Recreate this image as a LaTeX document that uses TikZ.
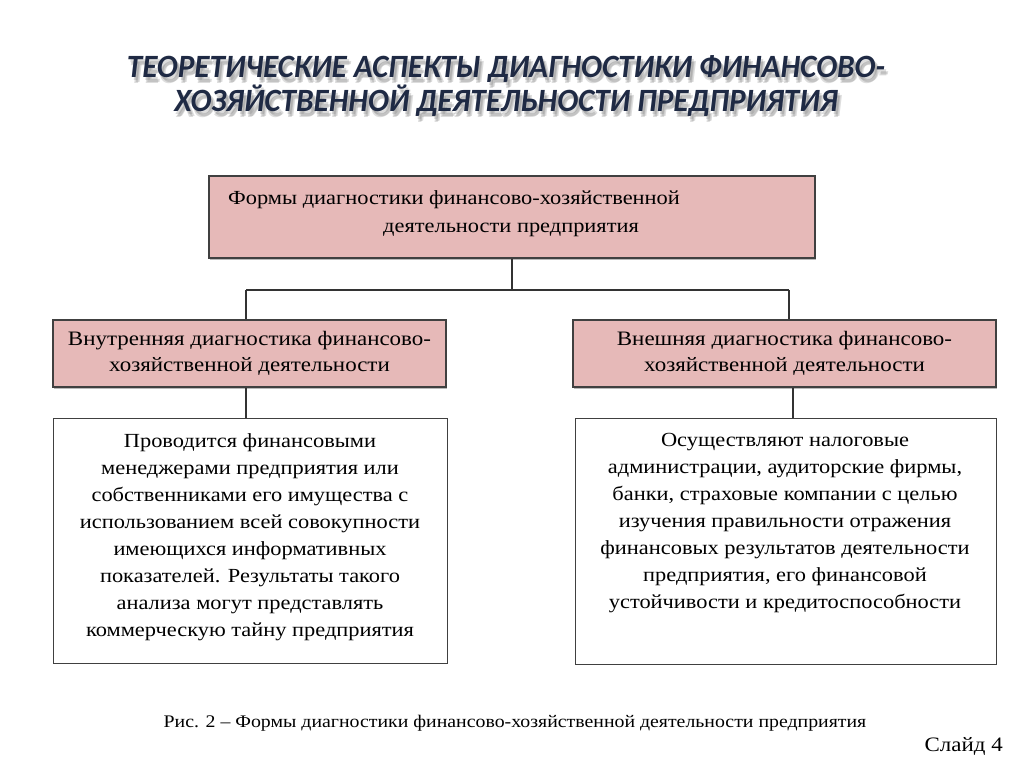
\documentclass[tikz,border=0pt]{standalone}
\usepackage{fontspec}
\usetikzlibrary{shadows}
\setmainfont[FakeStretch=1.12]{Liberation Serif}
\newfontfamily\titlefont[FakeStretch=0.96]{Carlito}
\definecolor{pinkbox}{HTML}{E6B9B8}
\definecolor{titleblue}{HTML}{1F2A44}
\definecolor{edge}{HTML}{404040}
\tikzset{
  pinkrect/.style={draw=edge, line width=1.2pt, fill=pinkbox, rectangle, inner sep=0pt,
    drop shadow={shadow xshift=0.5pt, shadow yshift=-1.5pt, fill=black!45, opacity=0.6}},
  whiterect/.style={draw=edge, line width=1pt, fill=white, rectangle, inner sep=0pt},
  conn/.style={draw=black!80, line width=1.1pt},
  boxtext/.style={font=\fontsize{20}{27}\selectfont, align=center, inner sep=0pt},
  titletext/.style={font=\titlefont\bfseries\itshape\fontsize{32.5}{34}\selectfont, align=center, inner sep=0pt}
}
\begin{document}
\begin{tikzpicture}[x=1pt,y=-1pt]
\useasboundingbox (0,0) rectangle (1024,768);
% title with soft shadow
\foreach \dx/\dy [count=\i] in {2/3,4/5.5,2.5/6.5}{
  \node[titletext, text=black!60, opacity=0.22] (titleshadow\i) at (506+\dx,86+\dy) {ТЕОРЕТИЧЕСКИЕ АСПЕКТЫ ДИАГНОСТИКИ ФИНАНСОВО-\\ХОЗЯЙСТВЕННОЙ ДЕЯТЕЛЬНОСТИ ПРЕДПРИЯТИЯ};
}
\node[titletext, text=titleblue] (title) at (506,86) {ТЕОРЕТИЧЕСКИЕ АСПЕКТЫ ДИАГНОСТИКИ ФИНАНСОВО-\\ХОЗЯЙСТВЕННОЙ ДЕЯТЕЛЬНОСТИ ПРЕДПРИЯТИЯ};
% top box
\node[pinkrect, minimum width=606pt, minimum height=82pt] (top) at (512,217) {};
\node[boxtext, anchor=base west] (topl1) at (228,204) {Формы диагностики финансово-хозяйственной};
\node[boxtext, anchor=base west] (topl2) at (383,232) {деятельности предприятия};
% second level
\node[pinkrect, minimum width=393pt, minimum height=67pt, boxtext, font=\fontsize{20.5}{26.5}\selectfont] (inner) at (249.5,353.5) {Внутренняя диагностика финансово-\\хозяйственной деятельности};
\node[pinkrect, minimum width=423pt, minimum height=67pt, boxtext, font=\fontsize{20.5}{26.5}\selectfont] (outer) at (784.5,353.5) {Внешняя диагностика финансово-\\хозяйственной деятельности};
% third level
\node[whiterect, minimum width=394pt, minimum height=245pt] (innerd) at (250,540.5) {};
\node[boxtext, anchor=north] (innert) at (250,433) {Проводится финансовыми\\менеджерами предприятия или\\собственниками его имущества с\\использованием всей совокупности\\имеющихся информативных\\показателей. Результаты такого\\анализа могут представлять\\коммерческую тайну предприятия};
\node[whiterect, minimum width=421pt, minimum height=246pt] (outerd) at (785.5,541) {};
\node[boxtext, anchor=north] (outert) at (785,433) {Осуществляют налоговые\\администрации, аудиторские фирмы,\\банки, страховые компании с целью\\изучения правильности отражения\\финансовых результатов деятельности\\предприятия, его финансовой\\устойчивости и кредитоспособности};
% connectors
\coordinate (j) at (512,290);
\coordinate (jl) at (246,290);
\coordinate (jr) at (789,290);
\draw[conn] (top.south) -- (j);
\draw[conn] (jl) -- (jr);
\draw[conn] (jl) -- (inner.north -| jl);
\draw[conn] (jr) -- (outer.north -| jr);
\draw[conn] (inner.south -| jl) -- (innerd.north -| jl);
\coordinate (rx) at (793,0);
\draw[conn] (outer.south -| rx) -- (outerd.north -| rx);
% caption
\node[font=\fontsize{17.7}{20}\selectfont, inner sep=0pt, anchor=base] (caption) at (515,727) {Рис. 2 – Формы диагностики финансово-хозяйственной деятельности предприятия};
\node[font=\fontsize{20.5}{22}\selectfont, inner sep=0pt, anchor=base east] (slide) at (1003,751) {Слайд 4};
\end{tikzpicture}
\end{document}
